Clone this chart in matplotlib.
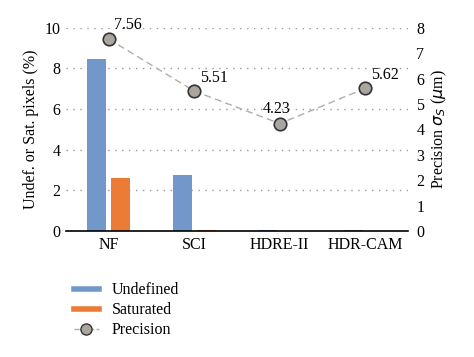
import matplotlib
matplotlib.use("Agg")
import matplotlib.pyplot as plt
import numpy as np
from matplotlib.lines import Line2D

categories = ["NF", "SCI", "HDRE-II", "HDR-CAM"]
undefined = [8.45, 2.75, 0.03, 0.06]
saturated = [2.6, 0.06, 0.0, 0.0]
precision = [7.56, 5.51, 4.23, 5.62]

plt.rcParams['font.family'] = ['Liberation Serif', 'DejaVu Serif']
fs = 11.5

fig = plt.figure(figsize=(4.74, 3.57), dpi=100)
ax = fig.add_axes([0.139, 0.353, 0.722, 0.569])
ax2 = ax.twinx()

x = np.arange(len(categories))
w = 0.22
blue = "#7197cb"
orange = "#ec7c35"
ax.bar(x - 0.14, undefined, w, color=blue, zorder=2)
ax.bar(x + 0.14, saturated, w, color=orange, zorder=2)

ax.set_xlim(-0.5, 3.5)
ax.set_ylim(0, 10)
ax.set_yticks([0, 2, 4, 6, 8, 10])
ax.set_xticks(x)
ax.set_xticklabels(categories, fontsize=fs)
ax.tick_params(length=0, labelsize=fs, pad=4)
for yv in [2, 4, 6, 8, 10]:
    ax.axhline(yv, color="#999999", lw=1.0, ls=(0, (1, 4)), zorder=1)
for s in ["top", "right", "left"]:
    ax.spines[s].set_visible(False)
ax.spines["bottom"].set_linewidth(1.2)
ax.set_ylabel("Undef. or Sat. pixels (%)", fontsize=fs)

ax2.plot(x, precision, ls=(0, (5, 3)), color="#b5aca5", lw=1.0,
         marker="o", ms=9, mfc="#aaa59f", mec="#333333", mew=1.2, zorder=3)
ax2.set_ylim(0, 8)
ax2.set_yticks(range(0, 9))
ax2.tick_params(length=0, labelsize=fs, pad=6)
for s in ["top", "right", "left", "bottom"]:
    ax2.spines[s].set_visible(False)
ax2.set_ylabel(r"Precision $\sigma_S$ ($\mu$m)", fontsize=fs)

offsets = [(4, 4), (4, 4), (-2, 5), (4, 4)]
has = ["left", "left", "center", "left"]
for i, v in enumerate(precision):
    ax2.annotate(f"{v:.2f}", (x[i], v), xytext=offsets[i], textcoords="offset points",
                 ha=has[i], va="bottom", fontsize=fs)

handles = [
    Line2D([0], [0], color=blue, lw=4),
    Line2D([0], [0], color=orange, lw=4),
    Line2D([0], [0], color="#b5aca5", ls="--", lw=1, marker="o", ms=8,
           mfc="#aaa59f", mec="#333333"),
]
fig.legend(handles, ["Undefined", "Saturated", "Precision"], loc="upper left",
           bbox_to_anchor=(0.125, 0.25), frameon=False, fontsize=fs,
           handlelength=1.6, labelspacing=0.25, handletextpad=0.8)

fig.savefig("out.png", dpi=100)
